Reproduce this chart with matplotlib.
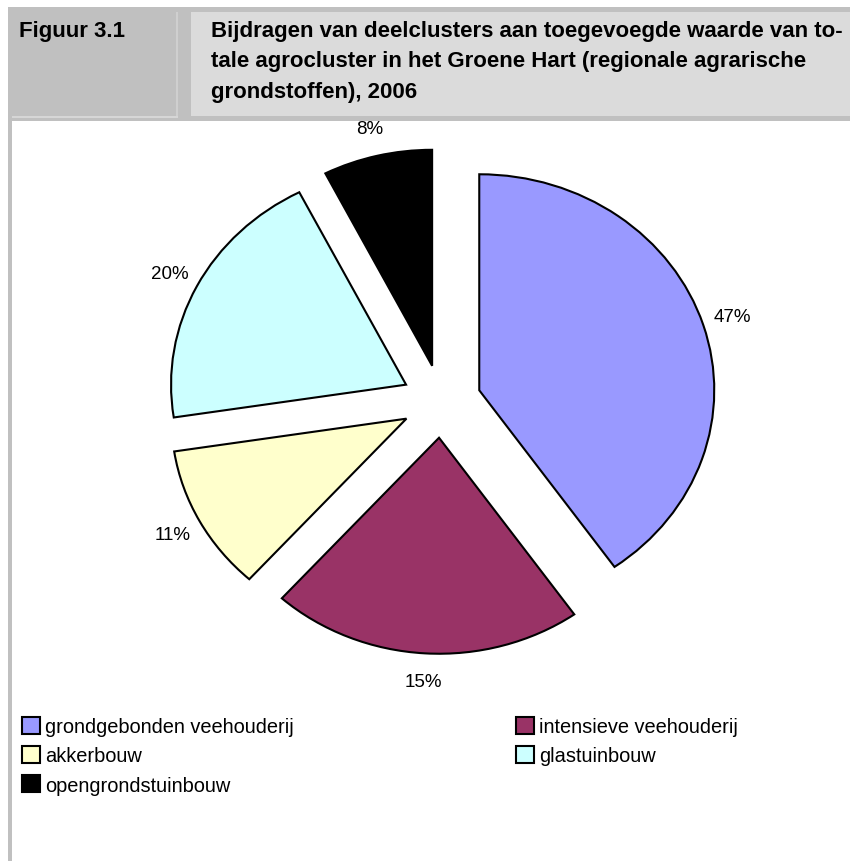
import matplotlib
matplotlib.use('Agg')
import matplotlib.pyplot as plt
from matplotlib.patches import Rectangle, Patch

# Data (slice sizes from the drawn angles, labels as printed)
categories = ['grondgebonden veehouderij', 'intensieve veehouderij', 'akkerbouw',
              'glastuinbouw', 'opengrondstuinbouw']
shares = [40.2, 21.4, 10.9, 19.9, 7.5]
pct_labels = ['47%', '15%', '11%', '20%', '8%']
colors = ['#9999FF', '#993366', '#FFFFCC', '#CCFFFF', '#000000']

fig_label = 'Figuur 3.1'
title_lines = ['Bijdragen van deelclusters aan toegevoegde waarde van to-',
               'tale agrocluster in het Groene Hart (regionale agrarische',
               'grondstoffen), 2006']

W, H = 850, 862
fig = plt.figure(figsize=(W / 100, H / 100), dpi=100)
fig.patch.set_facecolor('white')


def px(x, y):
    # pixel (from top-left) -> figure fraction
    return x / W, 1 - y / H


# Header band
def rect(x0, y0, x1, y1, color):
    fig.patches.append(Rectangle((x0 / W, 1 - y1 / H), (x1 - x0) / W, (y1 - y0) / H,
                                 transform=fig.transFigure, facecolor=color,
                                 edgecolor='none', zorder=0))


rect(8, 8, 850, 122, '#c0c0c0')
rect(191, 13, 850, 117, '#dbdbdb')
rect(12, 117, 178, 118.5, '#d6d6d6')
rect(176, 13, 177.5, 117, '#cfcfcf')
rect(8, 8, 12, 862, '#c0c0c0')

hdr_font = ['Liberation Sans', 'DejaVu Sans']
fig.text(*px(19, 31), fig_label, fontsize=16, fontweight='bold',
         family=hdr_font, va='center', ha='left')
for i, line in enumerate(title_lines):
    fig.text(*px(211, 31 + i * 31), line, fontsize=16, fontweight='bold',
             family=hdr_font, va='center', ha='left')

# Pie: axes sized so one data unit is 235 px wide and 216 px high
cx, cy = 441.4, 402.3
rx, ry = 235, 216
ax = fig.add_axes([(cx - 1.5 * rx) / W, (H - cy - 1.5 * ry) / H, 3 * rx / W, 3 * ry / H])
wedges, texts = ax.pie(shares, labels=pct_labels, colors=colors, startangle=90,
                       counterclock=False, explode=[0.169] * len(shares),
                       labeldistance=1.13,
                       wedgeprops=dict(edgecolor='black', linewidth=1.5),
                       textprops=dict(fontsize=13.5, family=['Liberation Sans', 'DejaVu Sans']))
for t in texts:
    t.set_ha('center')
    t.set_va('center')
ax.set_aspect('auto')
ax.set_xlim(-1.5, 1.5)
ax.set_ylim(-1.5, 1.5)
ax.axis('off')

# Legend, row-wise as in the original
order = [0, 2, 4, 1, 3]
handles = [Patch(facecolor=colors[i], edgecolor='black', linewidth=1.5) for i in order]
names = [categories[i] for i in order]
leg = fig.legend(handles, names, ncol=2, loc='upper left',
                 bbox_to_anchor=px(22, 718), frameon=False, borderpad=0,
                 borderaxespad=0, handlelength=0.9, handleheight=0.9,
                 handletextpad=0.25, labelspacing=0.5, columnspacing=11.1,
                 prop=dict(family=['Liberation Sans'], size=14.4))

fig.savefig('out.png', dpi=100)
